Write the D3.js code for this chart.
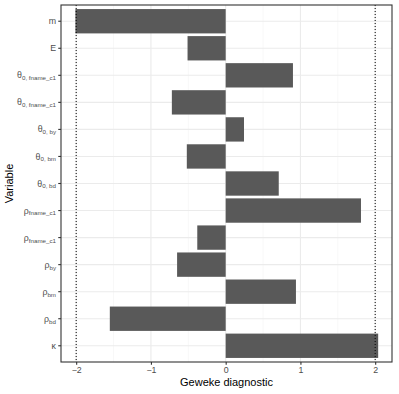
<!DOCTYPE html>
<html>
<head>
<meta charset="utf-8">
<script src="https://cdn.jsdelivr.net/npm/d3@7"></script>
<style>
  body { margin: 0; background: #fff; }
  text { font-family: "Liberation Sans", Arial, sans-serif; }
</style>
</head>
<body>
<div id="chart"></div>
<script>
// variables, top to bottom
var varKeys = ["m", "E", "th_fn1", "th_fn2", "th_by", "th_bm", "th_bd",
    "rho_fn1", "rho_fn2", "rho_by", "rho_bm", "rho_bd", "kappa"];
var varMain = ["m", "E", "θ", "θ", "θ", "θ", "θ", "ρ", "ρ", "ρ", "ρ", "ρ", "κ"];
var varSub = ["", "", "0, fname_c1", "0, fname_c1", "0, by", "0, bm", "0, bd",
    "fname_c1", "fname_c1", "by", "bm", "bd", ""];
var gewekeValues = [-2.01, -0.51, 0.90, -0.72, 0.245, -0.52, 0.71,
    1.81, -0.38, -0.65, 0.94, -1.55, 2.04];
var xTicks = [-2, -1, 0, 1, 2];
var xMinor = [-1.5, -0.5, 0.5, 1.5];
var refLines = [-2, 2];

var data = varKeys.map(function(k, i) {
    return { key: k, main: varMain[i], sub: varSub[i], value: gewekeValues[i] };
});

var svgWidth = 399, svgHeight = 394;
var margin = { top: 5, right: 7, bottom: 32, left: 61 },
    width = svgWidth - margin.left - margin.right,
    height = svgHeight - margin.top - margin.bottom;

var svg = d3.select("#chart").append("svg")
    .attr("width", svgWidth).attr("height", svgHeight);

var g = svg.append("g")
    .attr("transform", "translate(" + margin.left + "," + margin.top + ")");

var x = d3.scaleLinear().domain([-2.203, 2.225]).range([0, width]);

// discrete scale with ggplot-like 0.6 expansion
var step = height / (varKeys.length - 1 + 1.2);
var y = d3.scaleBand().domain(varKeys)
    .range([0.6 * step - step / 2, height - 0.6 * step + step / 2])
    .paddingInner(0.1).paddingOuter(0.05);

// gridlines
g.selectAll(".minor").data(xMinor).enter().append("line")
    .attr("x1", function(d) { return x(d); }).attr("x2", function(d) { return x(d); })
    .attr("y1", 0).attr("y2", height)
    .attr("stroke", "#f2f2f2").attr("stroke-width", 0.6);
g.selectAll(".major").data(xTicks).enter().append("line")
    .attr("x1", function(d) { return x(d); }).attr("x2", function(d) { return x(d); })
    .attr("y1", 0).attr("y2", height)
    .attr("stroke", "#ebebeb").attr("stroke-width", 1.1);
g.selectAll(".hmajor").data(varKeys).enter().append("line")
    .attr("x1", 0).attr("x2", width)
    .attr("y1", function(d) { return y(d) + y.bandwidth() / 2; })
    .attr("y2", function(d) { return y(d) + y.bandwidth() / 2; })
    .attr("stroke", "#ebebeb").attr("stroke-width", 1.1);

// bars
g.selectAll(".bar").data(data).enter().append("rect")
    .attr("x", function(d) { return x(Math.min(0, d.value)); })
    .attr("width", function(d) { return Math.abs(x(d.value) - x(0)); })
    .attr("y", function(d) { return y(d.key); })
    .attr("height", y.bandwidth())
    .attr("fill", "#595959");

// reference lines
g.selectAll(".ref").data(refLines).enter().append("line")
    .attr("x1", function(d) { return x(d); }).attr("x2", function(d) { return x(d); })
    .attr("y1", 0).attr("y2", height)
    .attr("stroke", "#000").attr("stroke-width", 1)
    .attr("stroke-dasharray", "1,2");

// panel border
g.append("rect").attr("width", width).attr("height", height)
    .attr("fill", "none").attr("stroke", "#333333").attr("stroke-width", 1.1);

// x axis
var xAxis = g.append("g")
    .attr("transform", "translate(0," + height + ")")
    .call(d3.axisBottom(x).tickValues(xTicks).tickSize(2.75).tickPadding(2.5)
        .tickFormat(function(d) { return d < 0 ? "\u2212" + Math.abs(d) : d; }));
xAxis.select(".domain").remove();
xAxis.selectAll("line").attr("stroke", "#333333").attr("stroke-width", 1.1);
xAxis.selectAll("text").attr("fill", "#4d4d4d").style("font-size", "8.8px")
    .style("font-family", "Liberation Sans, Arial, sans-serif");

// y axis
var yAxis = g.append("g")
    .call(d3.axisLeft(y).tickSize(2.75).tickFormat(""));
yAxis.select(".domain").remove();
yAxis.selectAll("line").attr("stroke", "#333333").attr("stroke-width", 1.1);

var yLab = g.selectAll(".ylab").data(data).enter().append("text")
    .attr("x", -5)
    .attr("y", function(d) { return y(d.key) + y.bandwidth() / 2; })
    .attr("dy", "0.35em")
    .attr("text-anchor", "end")
    .attr("fill", "#4d4d4d")
    .style("font-size", "8.8px");
yLab.append("tspan").text(function(d) { return d.main; });
yLab.append("tspan")
    .attr("dy", "0.3em")
    .style("font-size", "6.2px")
    .text(function(d) { return d.sub; });

// titles
svg.append("text")
    .attr("x", margin.left + width / 2).attr("y", 386)
    .attr("text-anchor", "middle").attr("fill", "#000")
    .style("font-size", "11px")
    .text("Geweke diagnostic");

svg.append("text")
    .attr("transform", "translate(13," + (margin.top + height / 2) + ") rotate(-90)")
    .attr("text-anchor", "middle").attr("fill", "#000")
    .style("font-size", "11px")
    .text("Variable");
</script>
</body>
</html>
